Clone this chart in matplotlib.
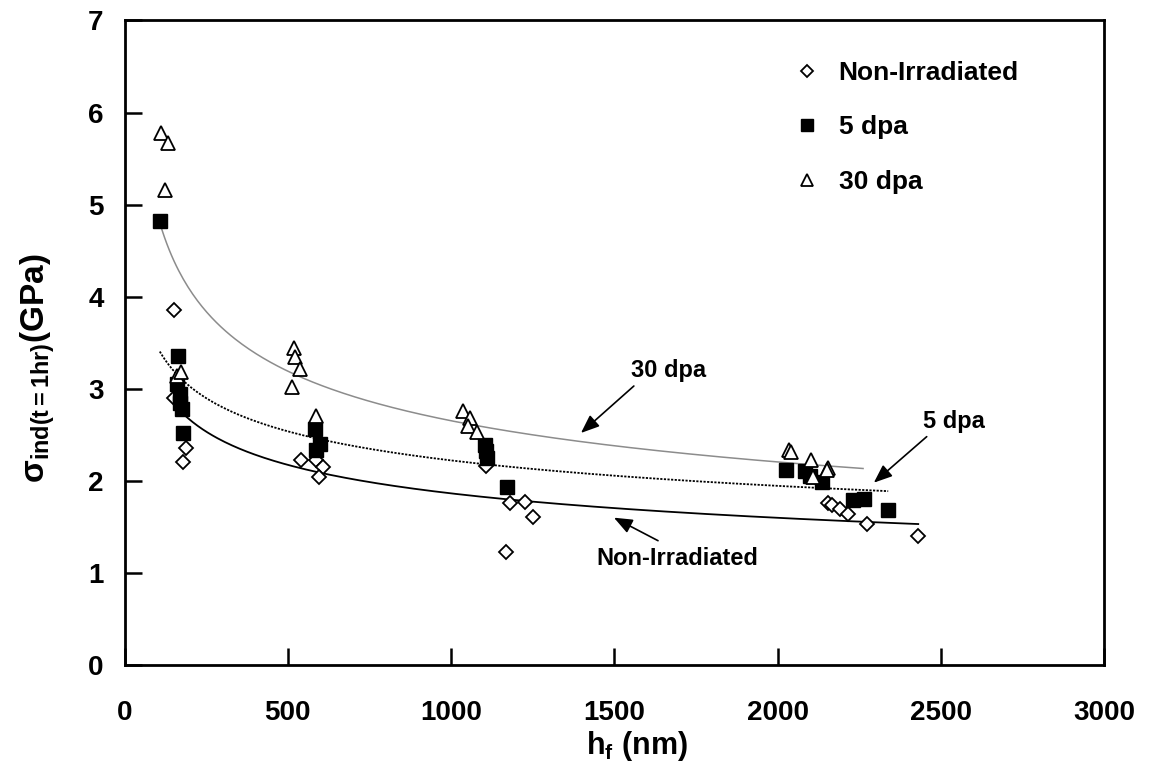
import numpy as np
import matplotlib.pyplot as plt

plt.rcParams['font.family'] = ['Liberation Sans', 'DejaVu Sans']
plt.rcParams['mathtext.fontset'] = 'custom'
plt.rcParams['mathtext.rm'] = 'Liberation Sans'
plt.rcParams['mathtext.it'] = 'Liberation Sans'
plt.rcParams['mathtext.bf'] = 'Liberation Sans:bold'

''' Data read off the figure: final depth h_f (nm) and stress (GPa) '''
non_x = [152, 153, 187, 179, 539, 587, 608, 595, 1107, 1180, 1228, 1252, 1168,
         2156, 2166, 2191, 2217, 2273, 2431]
non_y = [3.86, 2.90, 2.36, 2.21, 2.23, 2.23, 2.15, 2.04, 2.16, 1.76, 1.77, 1.61, 1.23,
         1.76, 1.74, 1.69, 1.64, 1.53, 1.40]

dpa5_x = [108, 165, 161, 169, 169, 177, 179, 582, 598, 585, 1104, 1107, 1109, 1172,
          2025, 2084, 2100, 2135, 2232, 2265, 2339]
dpa5_y = [4.82, 3.36, 3.05, 2.94, 2.85, 2.78, 2.52, 2.56, 2.40, 2.34, 2.39, 2.32, 2.25, 1.93,
          2.12, 2.11, 2.05, 1.99, 1.79, 1.80, 1.68]

dpa30_x = [112, 133, 123, 162, 174, 518, 521, 536, 512, 585, 1038, 1058, 1051, 1081,
           2034, 2040, 2103, 2108, 2156, 2151]
dpa30_y = [5.78, 5.67, 5.16, 3.14, 3.18, 3.44, 3.34, 3.21, 3.02, 2.70, 2.76, 2.68, 2.60, 2.53,
           2.34, 2.31, 2.23, 2.04, 2.14, 2.12]

# x extent of each power-law trendline
span_non = [179, 2431]
span_5 = [108, 2339]
span_30 = [108, 2262]

''' Power-law trendline  y = a x^b '''
def power_fit(x, y, span):
  b, ln_a = np.polyfit(np.log(x), np.log(y), 1)
  xs = np.linspace(span[0], span[1], 300)
  return xs, np.exp(ln_a) * xs ** b

fig = plt.figure(figsize=(11.5, 7.67), dpi=100)
ax = fig.add_axes([0.1083, 0.133, 0.8517, 0.8403])

xs, ys = power_fit(non_x, non_y, span_non)
ax.plot(xs, ys, color='black', lw=1.3, zorder=2)
xs, ys = power_fit(dpa5_x, dpa5_y, span_5)
ax.plot(xs, ys, color='black', lw=1.3, ls=(0, (1.2, 0.8)), zorder=2)
xs, ys = power_fit(dpa30_x, dpa30_y, span_30)
ax.plot(xs, ys, color='#8c8c8c', lw=1.1, zorder=2)

ax.plot(non_x, non_y, 'D', ms=7.4, mfc='white', mec='black', mew=1.3, ls='none',
        label='Non-Irradiated', zorder=3)
ax.plot(dpa5_x, dpa5_y, 's', ms=10, mfc='black', mec='black', ls='none',
        label='5 dpa', zorder=4)
ax.plot(dpa30_x, dpa30_y, '^', ms=10.5, mfc='white', mec='black', mew=1.3, ls='none',
        label='30 dpa', zorder=5)

''' Arrows with labels '''
arrow = dict(arrowstyle='-|>,head_length=0.8,head_width=0.32', color='black', lw=1.2,
             mutation_scale=14, shrinkA=0, shrinkB=0)
ax.annotate('', xy=(1398, 2.52), xytext=(1560, 3.03), arrowprops=arrow)
ax.text(1665, 3.20, '30 dpa', ha='center', va='center', fontsize=17, fontweight='bold')
ax.annotate('', xy=(2295, 1.98), xytext=(2457, 2.48), arrowprops=arrow)
ax.text(2540, 2.64, '5 dpa', ha='center', va='center', fontsize=17, fontweight='bold')
ax.annotate('', xy=(1499, 1.60), xytext=(1634, 1.35), arrowprops=arrow)
ax.text(1692, 1.16, 'Non-Irradiated', ha='center', va='center', fontsize=17, fontweight='bold')

ax.set_xlim(0, 3000)
ax.set_ylim(0, 7)
ax.set_xticks(np.arange(0, 3001, 500))
ax.set_yticks(np.arange(0, 8, 1))
ax.tick_params(axis='x', direction='in', length=12, width=1.8, pad=25, labelsize=20, top=False)
ax.tick_params(axis='y', direction='in', length=12, width=1.8, pad=15, labelsize=20, right=False)
for lab in ax.get_xticklabels() + ax.get_yticklabels():
  lab.set_fontweight('bold')
for sp in ax.spines.values():
  sp.set_linewidth(2.0)

ax.set_xlabel(r'$\mathbf{h_f}$ (nm)', fontsize=22, fontweight='bold')
ax.xaxis.set_label_coords(0.523, -0.1)
ax.set_ylabel(r'$\mathregular{σ_{ind(t=1hr)}}$(GPa)', fontsize=24, fontweight='bold')
ax.yaxis.set_label_coords(-0.069, 0.46)

leg = ax.legend(loc='upper left', bbox_to_anchor=(0.6845, 0.937), frameon=False,
                prop={'size': 19, 'weight': 'bold'}, handlelength=0.9, handletextpad=0.75,
                labelspacing=1.15, borderpad=0, borderaxespad=0, markerscale=0.85)

fig.savefig('out.png', dpi=100)
